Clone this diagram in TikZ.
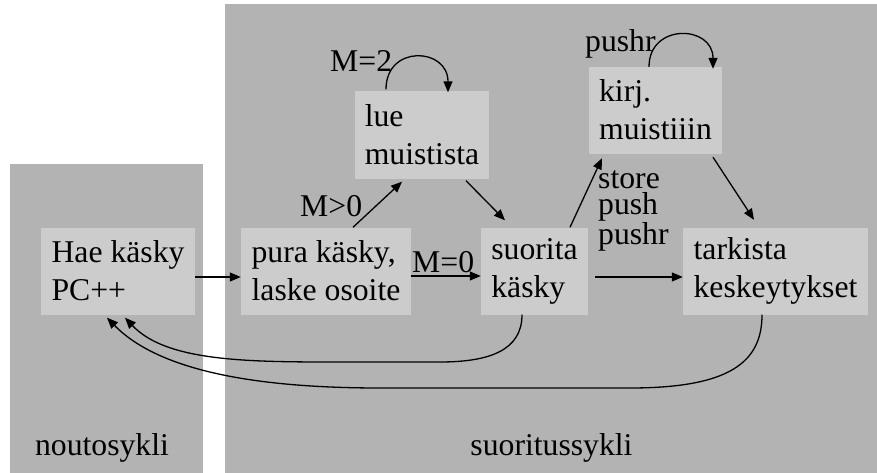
\documentclass[tikz,border=0pt]{standalone}
\usepackage{fontspec}
\setmainfont{Liberation Serif}
\usetikzlibrary{arrows.meta}
\definecolor{panelgray}{RGB}{179,179,179}
\definecolor{boxgray}{RGB}{204,204,204}
\begin{document}
\begin{tikzpicture}[x=1pt,y=1pt,
  panel/.style={fill=panelgray, draw=none, inner sep=0pt, anchor=north west},
  box/.style={fill=boxgray, draw=none, align=left, inner sep=0pt, minimum height=87pt,
    font=\fontsize{31.7}{38}\selectfont,
    execute at begin node={\rule{0pt}{33pt}},
    execute at end node={\rule[-1pt]{0pt}{1pt}}},
  lbl/.style={inner sep=0pt, anchor=base west, font=\fontsize{31.7}{38}\selectfont},
  arr/.style={draw=black, line width=1.3pt, -{Triangle[length=11pt,width=9pt]}}
]
\useasboundingbox (0,0) rectangle (877,-473);
\fill[white] (0,0) rectangle (877,-473);
% panels
\node[panel, minimum width=193pt, minimum height=309pt] (noutop) at (10,-164) {};
\node[panel, minimum width=652pt, minimum height=469pt] (suorip) at (225,-4) {};
% boxes
\node[box, minimum width=154pt] (hae) at (118,-271) {Hae käsky\\PC++};
\node[box, minimum width=170pt] (pura) at (326,-271) {pura käsky,\\laske osoite};
\node[box, minimum width=134pt] (lue) at (422,-135) {lue\\muistista};
\node[box, minimum width=107pt] (suor) at (534.5,-271) {suorita\\käsky};
\node[box, minimum width=133pt] (kirj) at (655.5,-110.5) {kirj.\\muistiiin};
\node[box, minimum width=185pt] (tark) at (775.5,-271) {tarkista\\keskeytykset};
% labels
\node[lbl] (m2) at (330,-72) {M=2};
\node[lbl] (mg0) at (300,-216) {M>0};
\node[lbl] (m0) at (412,-272) {M=0};
\node[lbl] (pushrl) at (585,-52) {pushr};
\node[lbl, align=left, font=\fontsize{31.7}{25.5}\selectfont] (storel) at (598,-244) {store\\push\\pushr};
\node[lbl, anchor=base] (noutol) at (102,-455) {noutosykli};
\node[lbl, anchor=base] (suoril) at (551.5,-455) {suoritussykli};
% connectors
\draw[arr] ([yshift=-6pt]hae.east) -- ([yshift=-6pt]pura.west);
\draw[arr] ([yshift=-5pt]pura.east) -- ([yshift=-5pt]suor.west);
\draw[arr] ([xshift=7pt,yshift=-6pt]suor.east) -- ([yshift=-6pt]tark.west);
\draw[arr] ([xshift=27pt]pura.north) -- ([xshift=-20pt,yshift=-3pt]lue.south);
\draw[arr] ([xshift=44pt,yshift=-2pt]lue.south) -- ([xshift=-29.5pt,yshift=7pt]suor.north);
\draw[arr] ([xshift=35.5pt]suor.north) -- ([xshift=-53.5pt,yshift=-4pt]kirj.south);
\draw[arr] ([xshift=57.5pt,yshift=-3pt]kirj.south) -- ([xshift=-21.5pt,yshift=7.5pt]tark.north);
\draw[arr] ([xshift=-36pt,yshift=2pt]lue.north) .. controls +(0,45) and +(0,45) .. ([xshift=26pt,yshift=-1pt]lue.north);
\draw[arr] ([xshift=-6.5pt]kirj.north) .. controls +(0,44) and +(0,44) .. ([xshift=57.5pt,yshift=-2pt]kirj.north);
\draw[arr] ([xshift=-12.5pt]suor.south) .. controls (522,-350) and (490,-362) .. (440,-362) -- (330,-362) .. controls (240,-362) and (165,-360) .. ([xshift=7pt,yshift=-3pt]hae.south);
\draw[arr] ([xshift=-13.5pt]tark.south) .. controls (762,-362) and (730,-388) .. (630,-388) -- (380,-388) .. controls (260,-388) and (160,-372) .. ([xshift=-11pt,yshift=-3pt]hae.south);
\end{tikzpicture}
\end{document}
